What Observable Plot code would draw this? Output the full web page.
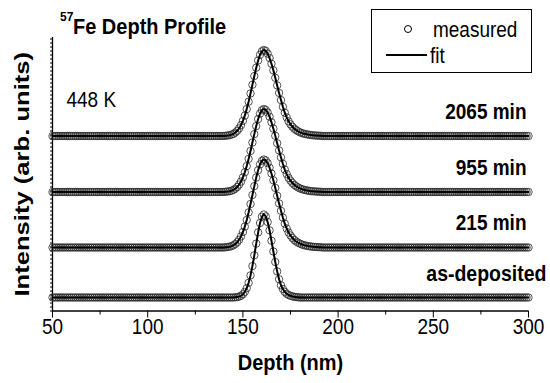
<!DOCTYPE html>
<html><head><meta charset="utf-8">
<script src="https://cdn.jsdelivr.net/npm/d3@7"></script>
<script src="https://cdn.jsdelivr.net/npm/@observablehq/plot@0.6"></script>
<style>
body{margin:0;background:#fff;}
#wrap{position:relative;width:550px;height:383px;font-family:"Liberation Sans",Arial,sans-serif;}
#overlay{position:absolute;left:0;top:0;pointer-events:none;}
</style></head><body><div id="wrap"></div>
<script>
// Depth grid of the measurement (nm), one point per nm
const depth = d3.range(50, 301, 1);
const series = ["as-deposited", "215 min", "955 min", "2065 min"];
const offsets = [13.5, 63.5, 119, 175];          // vertical shift of each profile (arb. units)
const peakStart = [146, 141, 141, 141];           // first depth (nm) of the peak window
const peakAsDeposited = [0.2,0.4,0.9,1.7,3.2,5.6,9.3,14.7,22.1,31.4,42.2,53.9,65.1,74.5,80.8,83,81.1,75.5,67.2,56.8,46.0,35.5,26.1,18.3,12.2,8.5,5.6,3.7,2.5,1.7,1.1,0.7,0.4,0.2];
const peak215 = [0.3,0.5,0.8,1.4,2.2,3.5,5.3,7.8,11.1,15.5,20.9,27.5,35.1,43.5,52.5,61.4,69.9,77.3,83.1,86.7,88,87.1,84.3,79.8,74.0,67.2,59.6,51.8,44.1,36.7,29.9,23.8,19,15,12,9.5,7.5,6,4.8,3.8,3.0,2.4,1.9,1.5,1.2,0.9,0.7,0.5,0.4,0.3,0.2];
const peak955 = [0.3,0.5,0.8,1.3,2.1,3.3,5.0,7.4,10.5,14.6,19.7,25.9,33.1,41.0,49.5,57.9,65.9,72.9,78.4,81.8,83,82.1,79.5,75.3,69.8,63.4,56.2,48.8,41.6,34.6,28.2,22.4,17.9,14.1,11.3,9.0,7.1,5.7,4.5,3.6,2.8,2.3,1.8,1.4,1.1,0.8,0.7,0.5,0.4,0.3,0.2];
const peak2065 = [0.3,0.5,0.8,1.4,2.1,3.4,5.2,7.6,10.8,15.1,20.4,26.9,34.3,42.5,51.3,60.0,68.3,75.5,81.2,84.7,86,85.1,82.4,78.0,72.3,65.7,58.2,50.6,43.1,35.9,29.2,23.3,18.6,14.7,11.7,9.3,7.3,5.9,4.7,3.7,2.9,2.3,1.9,1.5,1.2,0.9,0.7,0.5,0.4,0.3,0.2];
const peaks = [peakAsDeposited, peak215, peak955, peak2065];
const xTicks = [50, 100, 150, 200, 250, 300];
const xMinorTicks = [75, 125, 175, 225, 275];
const yTicks = d3.range(0, 274, 4);

const rows = [];
series.forEach((s, i) => {
  const p = peaks[i];
  depth.forEach(d => {
    const k = d - peakStart[i];
    const v = (k >= 0 && k < p.length) ? p[k] : 0;
    rows.push({series: s, depth: d, y: v + offsets[i]});
  });
});
const labels = series.map((s, i) => ({series: s, depth: 300, y: offsets[i] + 24}));

const FONT = "Liberation Sans, Arial, sans-serif";
const chart = Plot.plot({
  width: 550, height: 383,
  marginLeft: 52, marginRight: 22, marginTop: 37, marginBottom: 72.5,
  style: {fontFamily: FONT, fontSize: "19px", background: "white", color: "black", overflow: "visible"},
  x: {domain: [50, 300]},
  y: {domain: [0, 273.5]},
  marks: [
    Plot.axisX({ticks: xMinorTicks, tickSize: 4, tickFormat: () => "", label: null}),
    Plot.axisX({ticks: xTicks, tickSize: 7, tickPadding: 2, label: null, fontSize: 19}),
    Plot.axisY({ticks: yTicks, tickSize: 2, tickFormat: () => "", label: null}),
    Plot.ruleX([50], {strokeWidth: 1.3}),
    Plot.ruleY([0], {strokeWidth: 1.3}),
    Plot.dot(rows, {x: "depth", y: "y", r: 3.7, stroke: "#2a2a2a", strokeWidth: 0.8, fill: "none"}),
    Plot.line(rows, {x: "depth", y: "y", z: "series", stroke: "black", strokeWidth: 2}),
    Plot.text(labels.filter(d => d.series !== "as-deposited"), {x: "depth", y: "y", text: "series", textAnchor: "end", dx: -2, fontWeight: "bold", fontSize: 19}),
    Plot.text(labels.filter(d => d.series === "as-deposited"), {x: "depth", y: "y", text: "series", textAnchor: "end", dx: 18, fontWeight: "bold", fontSize: 19.5}),
    Plot.text(["448 K"], {frameAnchor: "top-left", lineAnchor: "middle", dx: 14, dy: 63, fontSize: 19}),
    Plot.text(["Intensity (arb. units)"], {frameAnchor: "left", textAnchor: "middle", lineAnchor: "middle", rotate: -90, dx: -30, fontWeight: "bold", fontSize: 20}),
    Plot.text(["Depth (nm)"], {frameAnchor: "bottom", textAnchor: "middle", lineAnchor: "middle", dy: 52, fontWeight: "bold", fontSize: 20})
  ]
});
const wrap = document.getElementById("wrap");
wrap.appendChild(chart);

const ns = "http://www.w3.org/2000/svg";
const ov = document.createElementNS(ns, "svg");
ov.setAttribute("id", "overlay");
ov.setAttribute("width", 550); ov.setAttribute("height", 383);
ov.innerHTML = `
  <g font-family="${FONT}">
    <text x="60" y="21" font-size="12" font-weight="bold">57</text>
    <text x="73" y="33" font-size="20" font-weight="bold">Fe Depth Profile</text>
    <rect x="371.5" y="9.5" width="160" height="63" fill="white" stroke="black" stroke-width="1"/>
    <circle cx="408" cy="29" r="3.5" fill="none" stroke="black" stroke-width="1"/>
    <text x="433" y="36" font-size="19">measured</text>
    <line x1="386" x2="427" y1="55" y2="55" stroke="black" stroke-width="2"/>
    <text x="430" y="62" font-size="19">fit</text>
  </g>`;
wrap.appendChild(ov);

// The reference lettering is tall and narrow: stretch each text vertically about its own centre.
function stretchTexts(svg) {
  svg.querySelectorAll("text").forEach(t => {
    const s = t.textContent === "Intensity (arb. units)" ? 1.28 : 1.12;
    const r = t.getBoundingClientRect();
    if (!r.height) return;
    const parent = t.parentNode;
    const ctm = parent.getScreenCTM();
    const cy = (r.top + r.height / 2 - ctm.f) / ctm.d;
    const g = document.createElementNS(ns, "g");
    g.setAttribute("transform", `translate(0,${cy * (1 - s)}) scale(1,${s})`);
    parent.insertBefore(g, t);
    g.appendChild(t);
  });
}
stretchTexts(chart);
stretchTexts(ov);
</script>
</body></html>
